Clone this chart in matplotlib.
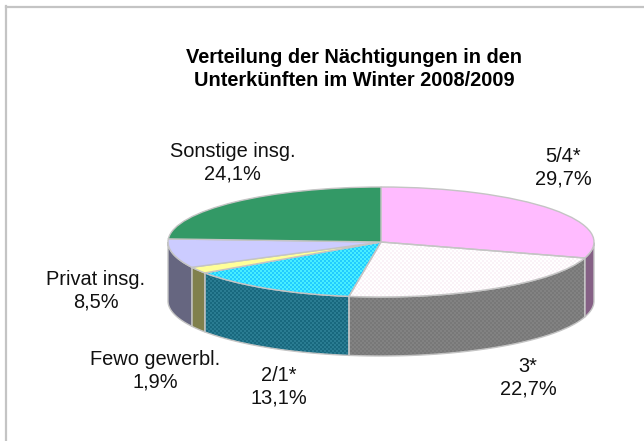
import matplotlib
matplotlib.use("Agg")
import matplotlib.pyplot as plt
from matplotlib.colors import to_rgb
import numpy as np

plt.rcParams['font.family'] = ['Liberation Sans', 'DejaVu Sans']

title = "Verteilung der Nächtigungen in den\nUnterkünften im Winter 2008/2009"
names = ["5/4*", "3*", "2/1*", "Fewo gewerbl.", "Privat insg.", "Sonstige insg."]
values = [29.7, 22.7, 13.1, 1.9, 8.5, 24.1]
value_labels = ["29,7%", "22,7%", "13,1%", "1,9%", "8,5%", "24,1%"]
top_colors = ["#FFBBFF", "#FFFFFF", "#22CCFF", "#FFFF99", "#CCCCFF", "#339966"]
top_dither = [None, "#FAF2F7", "#48EEFF", None, None, None]
side_colors = ["#856085", "#787878", "#18687E", "#80804D", "#666680", "#1F5F40"]
side_dither = [None, "#828282", "#2A7C92", None, None, None]
label_px = [(563, 168), (528, 378), (278.5, 387), (155.5, 370.5), (95.5, 290.5), (232.5, 163)]

W, H = 644, 441
cx, cy, rx, ry, depth = 381, 242, 213, 55, 59
edge = "#C4C4C4"
limits = (-cx / rx, (W - cx) / rx, (cy - H) / ry, cy / ry)

fig = plt.figure(figsize=(W / 100, H / 100), dpi=100)
ax = fig.add_axes([0, 0, 1, 1])


def dither(patch, c1, c2, zorder):
    # 2px checkerboard over the whole axes, clipped to the patch
    yy, xx = np.mgrid[0:H, 0:W]
    mask = ((xx // 2 + yy // 2) % 2)[..., None]
    img = np.where(mask, to_rgb(c2), to_rgb(c1))
    im = ax.imshow(img, extent=limits, aspect='auto', interpolation='nearest', zorder=zorder)
    im.set_clip_path(patch)
    patch.set_facecolor('none')


# pie lives on the unit circle, the axes limits squash it into the ellipse
wedges, _ = ax.pie(values, colors=top_colors, startangle=90, counterclock=False, radius=1,
                   wedgeprops=dict(edgecolor=edge, linewidth=1, zorder=3))
for i, w in enumerate(wedges):
    if top_dither[i]:
        dither(w, top_colors[i], top_dither[i], 2.5)

# side wall, only the front half of the ellipse shows
d = depth / ry
bounds = 90 - np.cumsum([0] + values) * 3.6
for i in range(len(values)):
    hi, lo = bounds[i], bounds[i + 1]
    angs = np.radians(np.linspace(lo, hi, 80))
    angs = angs[np.sin(angs) <= 0]
    if len(angs) < 2:
        continue
    xs = np.cos(angs)
    ys = np.sin(angs)
    side = ax.fill(np.r_[xs, xs[::-1]], np.r_[ys, ys[::-1] - d],
                   facecolor=side_colors[i], edgecolor=edge, linewidth=1, zorder=2)[0]
    if side_dither[i]:
        dither(side, side_colors[i], side_dither[i], 1.5)

ax.set_aspect('auto')
ax.set_xlim(limits[0], limits[1])
ax.set_ylim(limits[2], limits[3])
ax.axis('off')


def px(x, y):
    return (x - cx) / rx, (cy - y) / ry


for name, val, (x, y) in zip(names, value_labels, label_px):
    ax.text(*px(x, y), name + "\n" + val, ha='center', va='center', fontsize=14.4,
            color='#111111', linespacing=1.22, zorder=5)

ax.text(*px(354, 69), title, ha='center', va='center', fontsize=14.4,
        fontweight='bold', color='black', linespacing=1.33, zorder=5)

# chart frame, only top and left edges are in the picture
fig.add_artist(plt.Line2D([6 / W, 6 / W], [0, 1 - 6 / H], color=edge, linewidth=1.6))
fig.add_artist(plt.Line2D([6 / W, 1], [1 - 7 / H, 1 - 7 / H], color=edge, linewidth=1.6))

fig.savefig("out.png", dpi=100, facecolor='white')
